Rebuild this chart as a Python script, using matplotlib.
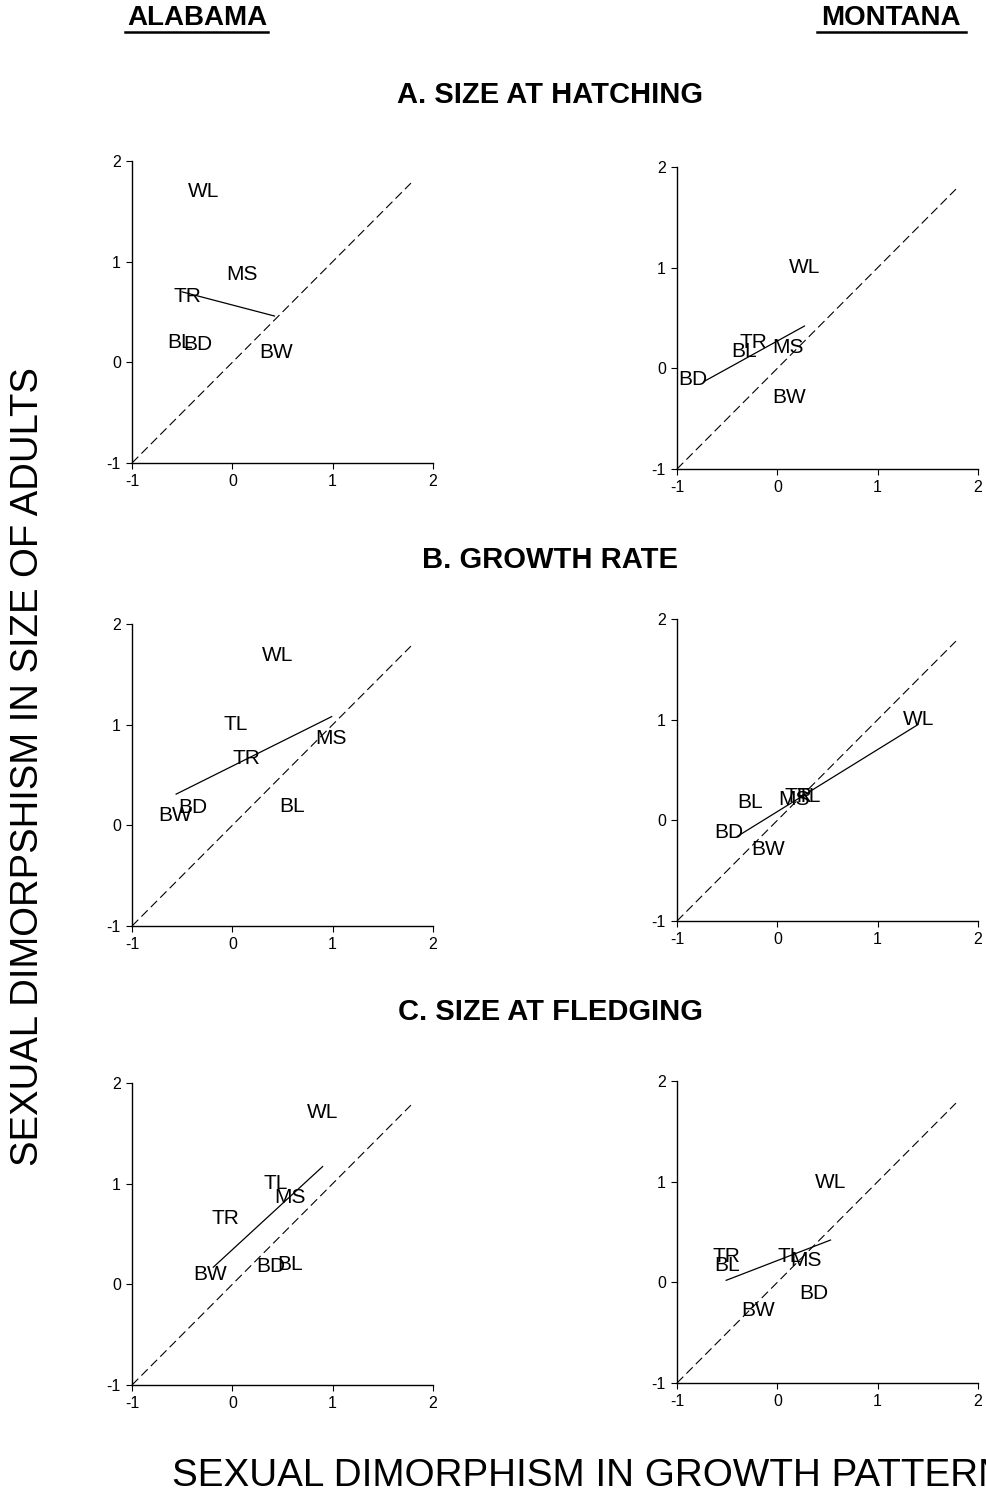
import matplotlib
matplotlib.use("Agg")
import matplotlib.pyplot as plt
from matplotlib.lines import Line2D

plt.rcParams['font.family'] = ['Liberation Sans', 'DejaVu Sans']
plt.rcParams['axes.unicode_minus'] = False   # plain hyphen on "-1"

W, H = 987, 1494

# ---- data (label centres, regression end points) ----
# A. size at hatching
a_al_lab = ['WL', 'MS', 'TR', 'BL', 'BD', 'BW']
a_al_x = [-0.29, 0.10, -0.45, -0.52, -0.34, 0.44]
a_al_y = [1.70, 0.87, 0.65, 0.20, 0.18, 0.10]
a_al_fit = ([-0.50, 0.42], [0.70, 0.46])

a_mt_lab = ['WL', 'TR', 'BL', 'MS', 'BD', 'BW']
a_mt_x = [0.27, -0.24, -0.33, 0.11, -0.84, 0.12]
a_mt_y = [1.00, 0.26, 0.17, 0.21, -0.11, -0.29]
a_mt_fit = ([-0.73, 0.27], [-0.13, 0.42])

# B. growth rate
b_al_lab = ['WL', 'TL', 'TR', 'MS', 'BD', 'BW', 'BL']
b_al_x = [0.45, 0.03, 0.14, 0.98, -0.39, -0.57, 0.60]
b_al_y = [1.69, 1.00, 0.66, 0.86, 0.18, 0.10, 0.19]
b_al_fit = ([-0.56, 0.99], [0.31, 1.08])

b_mt_lab = ['WL', 'BL', 'BD', 'BW', 'TR', 'TL', 'MS']
b_mt_x = [1.41, -0.27, -0.48, -0.09, 0.21, 0.31, 0.17]
b_mt_y = [1.00, 0.18, -0.12, -0.29, 0.24, 0.24, 0.21]
b_mt_fit = ([-0.40, 1.40], [-0.16, 0.95])

# C. size at fledging
c_al_lab = ['WL', 'TL', 'MS', 'TR', 'BW', 'BD', 'BL']
c_al_x = [0.90, 0.43, 0.57, -0.07, -0.22, 0.38, 0.58]
c_al_y = [1.71, 1.00, 0.86, 0.65, 0.10, 0.18, 0.20]
c_al_fit = ([-0.19, 0.90], [0.17, 1.17])

c_mt_lab = ['WL', 'TR', 'BL', 'TL', 'MS', 'BD', 'BW']
c_mt_x = [0.53, -0.51, -0.50, 0.12, 0.29, 0.36, -0.19]
c_mt_y = [0.99, 0.26, 0.17, 0.26, 0.22, -0.11, -0.28]
c_mt_fit = ([-0.51, 0.53], [0.02, 0.42])

diag = ([-1, 1.78], [-1, 1.78])   # line of equality
ticks = [-1, 0, 1, 2]

panels = [
    (a_al_lab, a_al_x, a_al_y, a_al_fit, (132, 161)),
    (a_mt_lab, a_mt_x, a_mt_y, a_mt_fit, (677, 167)),
    (b_al_lab, b_al_x, b_al_y, b_al_fit, (132, 624)),
    (b_mt_lab, b_mt_x, b_mt_y, b_mt_fit, (677, 619)),
    (c_al_lab, c_al_x, c_al_y, c_al_fit, (132, 1083)),
    (c_mt_lab, c_mt_x, c_mt_y, c_mt_fit, (677, 1081)),
]

fig = plt.figure(figsize=(W / 100, H / 100), dpi=100)

aw, ah = 301, 302   # axes size in pixels
for lab, xs, ys, fit, (px, py) in panels:
    ax = fig.add_axes([px / W, 1 - (py + ah) / H, aw / W, ah / H])
    ax.set_xlim(-1, 2)
    ax.set_ylim(-1, 2)
    ax.set_xticks(ticks)
    ax.set_yticks(ticks)
    ax.spines['top'].set_visible(False)
    ax.spines['right'].set_visible(False)
    ax.spines['left'].set_linewidth(1.0)
    ax.spines['bottom'].set_linewidth(1.0)
    ax.tick_params(direction='out', length=4, width=0.8, labelsize=11.5, pad=4)
    ax.plot(diag[0], diag[1], color='black', lw=0.8, ls=(0, (8, 4)), clip_on=False)
    ax.plot(fit[0], fit[1], color='black', lw=0.9)
    for t, x, y in zip(lab, xs, ys):
        ax.text(x, y, t, ha='center', va='center', fontsize=15)

# headings
fig.text(197 / W, 1 - 18 / H, 'ALABAMA', ha='center', va='center',
         fontsize=20, fontweight='bold')
fig.text(891 / W, 1 - 18 / H, 'MONTANA', ha='center', va='center',
         fontsize=20, fontweight='bold')
fig.add_artist(Line2D([125 / W, 268 / W], [1 - 32 / H, 1 - 32 / H], color='black', lw=1.8))
fig.add_artist(Line2D([817 / W, 966 / W], [1 - 32 / H, 1 - 32 / H], color='black', lw=1.8))

for title, ty in [('A. SIZE AT HATCHING', 95), ('B. GROWTH RATE', 560),
                  ('C. SIZE AT FLEDGING', 1012)]:
    fig.text(550 / W, 1 - ty / H, title, ha='center', va='center',
             fontsize=21, fontweight='bold')

fig.text(28 / W, 1 - 767 / H, 'SEXUAL DIMORPSHISM IN SIZE OF ADULTS',
         rotation=90, ha='center', va='center', fontsize=27.5)
fig.text(172 / W, 1 - 1476 / H, 'SEXUAL DIMORPHISM IN GROWTH PATTERN',
         ha='left', va='center', fontsize=27.8,
         family=['Liberation Sans Narrow', 'Liberation Sans', 'DejaVu Sans'])

fig.savefig('out.png', dpi=100)
